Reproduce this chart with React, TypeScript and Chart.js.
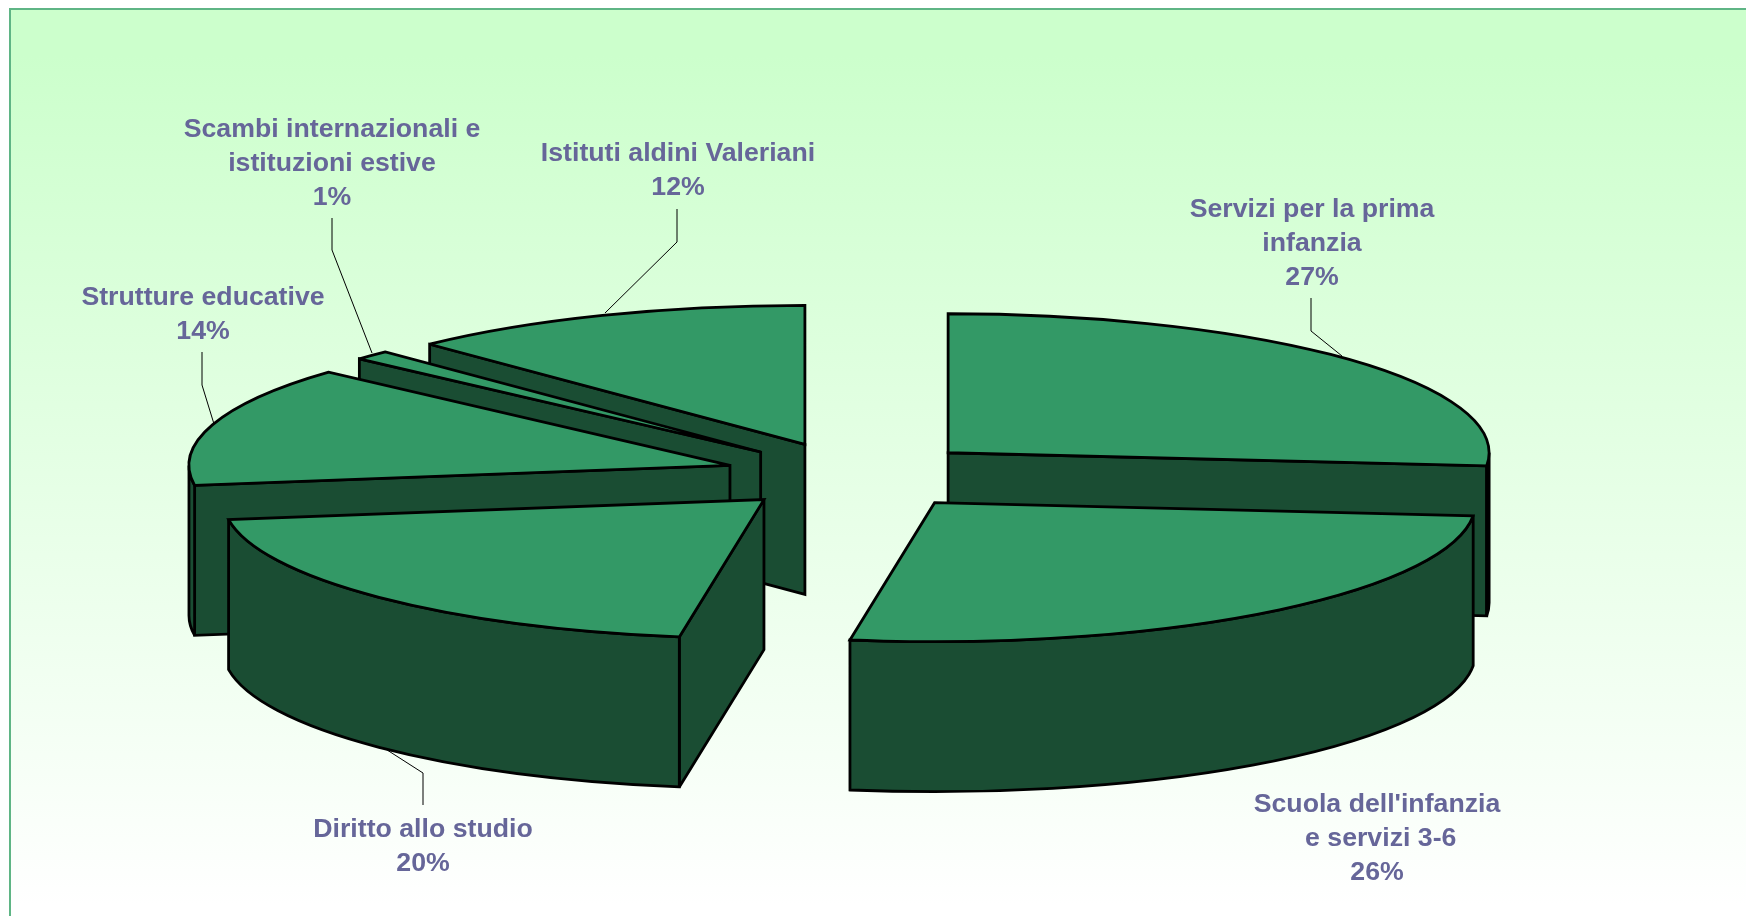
import React, { useEffect, useRef } from "react";
import { Chart, registerables } from "chart.js";

Chart.register(...registerables);

const categories = [
  "Servizi per la prima infanzia",
  "Scuola dell'infanzia e servizi 3-6",
  "Diritto allo studio",
  "Strutture educative",
  "Scambi internazionali e istituzioni estive",
  "Istituti aldini Valeriani",
];
const values = [26.5, 26.0, 20.2, 14.0, 1.1, 12.2];
const percentLabels = ["27%", "26%", "20%", "14%", "1%", "12%"];
const labelLines = [
  ["Servizi per la prima", "infanzia"],
  ["Scuola dell'infanzia", " e servizi 3-6"],
  ["Diritto allo studio"],
  ["Strutture educative"],
  ["Scambi internazionali e", "istituzioni estive"],
  ["Istituti aldini Valeriani"],
];
const labelCentres = [1312, 1377, 423, 203, 332, 678];
const labelTops = [209.7, 804.7, 830, 297.7, 129.7, 153.7];
const leaders: number[][][] = [
  [[1311, 298], [1311, 331], [1342, 356]],
  [],
  [[423, 805], [423, 773], [384, 748]],
  [[202, 352], [202, 385], [214, 424]],
  [[332, 218], [332, 250], [372, 353]],
  [[677, 209], [677, 242], [605, 313]],
];
const drawOrder = [5, 4, 3, 2, 0, 1];

const RIM_X = 541;
const RIM_Y = 139;
const DEPTH = 150;
const EXPLODE = 128.6;
const NEAR_SHIFT_X = 3.5;
const NEAR_SHIFT_Y = 2;
const TOP_COLOUR = "#339966";
const SIDE_COLOUR = "#1A4D33";
const TEXT_COLOUR = "#666699";
const EDGE = 2.8;

const pie3d = {
  id: "pie3d",
  beforeDatasetDraw(chart: any) {
    const ctx: CanvasRenderingContext2D = chart.ctx;
    const arcs = chart.getDatasetMeta(0).data;

    ctx.save();
    ctx.strokeStyle = "#000";
    ctx.lineWidth = 1;
    leaders.forEach((pts) => {
      if (!pts.length) return;
      ctx.beginPath();
      pts.forEach((p, i) => (i ? ctx.lineTo(p[0], p[1]) : ctx.moveTo(p[0], p[1])));
      ctx.stroke();
    });

    ctx.lineWidth = EDGE;
    ctx.lineJoin = "miter";
    ctx.miterLimit = 2.5;
    drawOrder.forEach((i) => {
      const arc = arcs[i];
      const a0: number = arc.startAngle;
      const a1: number = arc.endAngle;
      const mid = (a0 + a1) / 2;
      const near = Math.max(0, Math.sin(mid));
      const ax = arc.x + Math.cos(mid) * EXPLODE + near * NEAR_SHIFT_X;
      const ay = arc.y + (Math.sin(mid) * EXPLODE * RIM_Y) / RIM_X + near * NEAR_SHIFT_Y;
      const rim = (a: number) => [ax + Math.cos(a) * RIM_X, ay + Math.sin(a) * RIM_Y];
      const m = rim(mid);

      // cut faces that look towards the viewer
      [a0, a1].forEach((a) => {
        const r = rim(a);
        const dx = r[0] - ax;
        const dy = r[1] - ay;
        const cross = dx * (m[1] - ay) - dy * (m[0] - ax);
        if (Math.abs(dx) < 1 || dx * cross >= 0) return;
        ctx.beginPath();
        ctx.moveTo(ax, ay);
        ctx.lineTo(r[0], r[1]);
        ctx.lineTo(r[0], r[1] + DEPTH);
        ctx.lineTo(ax, ay + DEPTH);
        ctx.closePath();
        ctx.fillStyle = SIDE_COLOUR;
        ctx.fill();
        ctx.stroke();
      });

      // outer wall, front half of the rim only
      const f0 = Math.max(a0, 0);
      const f1 = Math.min(a1, Math.PI);
      if (f1 > f0) {
        ctx.beginPath();
        ctx.ellipse(ax, ay, RIM_X, RIM_Y, 0, f0, f1);
        ctx.ellipse(ax, ay + DEPTH, RIM_X, RIM_Y, 0, f1, f0, true);
        ctx.closePath();
        ctx.fillStyle = SIDE_COLOUR;
        ctx.fill();
        ctx.stroke();
      }

      // top face
      ctx.beginPath();
      ctx.moveTo(ax, ay);
      ctx.ellipse(ax, ay, RIM_X, RIM_Y, 0, a0, a1);
      ctx.closePath();
      ctx.fillStyle = TOP_COLOUR;
      ctx.fill();
      ctx.stroke();
    });

    // labels
    ctx.fillStyle = TEXT_COLOUR;
    ctx.font = 'bold 26.7px "Liberation Sans", Arial, sans-serif';
    ctx.textAlign = "center";
    ctx.textBaseline = "middle";
    labelLines.forEach((lines, i) => {
      [...lines, percentLabels[i]].forEach((t, j) => {
        ctx.fillText(t, labelCentres[i], labelTops[i] + j * 33.8);
      });
    });
    ctx.restore();
    return false;
  },
};

export default function App() {
  const ref = useRef<HTMLCanvasElement | null>(null);
  useEffect(() => {
    document.body.style.margin = "0";
    document.body.style.overflow = "hidden";
    const chart = new Chart(ref.current as HTMLCanvasElement, {
      type: "pie",
      data: {
        labels: categories,
        datasets: [{ data: values, backgroundColor: TOP_COLOUR, borderWidth: 0 }],
      },
      options: {
        animation: false,
        responsive: false,
        events: [],
        layout: { padding: { left: 0, right: 40, top: 34, bottom: 0 } },
        plugins: { legend: { display: false }, tooltip: { enabled: false } },
      },
      plugins: [pie3d],
    } as any);
    return () => chart.destroy();
  }, []);
  return (
    <div
      style={{
        position: "absolute",
        left: 0,
        top: 0,
        width: 1746,
        height: 916,
        overflow: "hidden",
        background: "#fff",
      }}
    >
      <div
        style={{
          position: "absolute",
          left: 9,
          top: 8,
          width: 1746,
          height: 916,
          boxSizing: "border-box",
          borderLeft: "2px solid #5FB585",
          borderTop: "2px solid #5FB585",
          background: "linear-gradient(180deg, #CCFFCC 5%, #FFFFFF 98%)",
        }}
      />
      <canvas
        ref={ref}
        width={1746}
        height={916}
        style={{ position: "absolute", left: 0, top: 0, display: "block" }}
      />
    </div>
  );
}
